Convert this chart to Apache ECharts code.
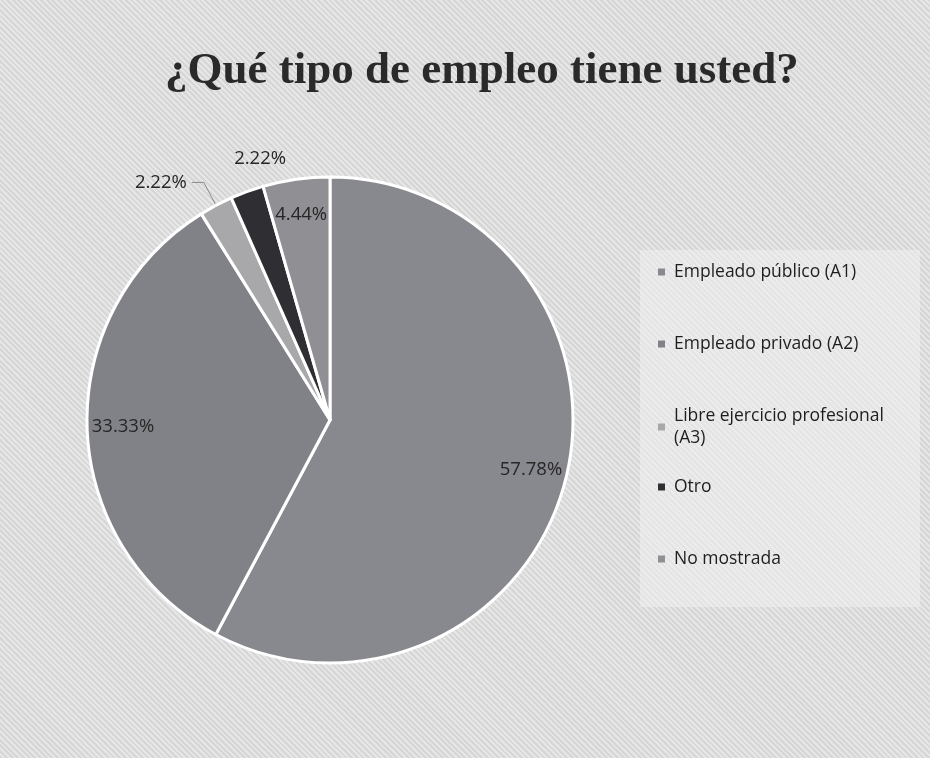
<!DOCTYPE html>
<html>
<head>
<meta charset="utf-8">
<script src="https://cdn.jsdelivr.net/npm/echarts@6/dist/echarts.min.js"></script>
<style>
html,body{margin:0;padding:0;width:930px;height:758px;overflow:hidden;}
body{background:#dcdcdc repeating-linear-gradient(45deg,#d6d6d6 0px,#d6d6d6 2px,#e6e6e6 2px,#e6e6e6 4px);}
#chart{width:930px;height:758px;}
</style>
</head>
<body>
<div id="chart"></div>
<script>
const titleText = '¿Qué tipo de empleo tiene usted?';
const categories = ['Empleado público (A1)', 'Empleado privado (A2)', 'Libre ejercicio profesional\n(A3)', 'Otro', 'No mostrada'];
const percentValues = [57.78, 33.33, 2.22, 2.22, 4.44];
const sliceColors = ['#88888f', '#818188', '#a8a8aa', '#2f2f33', '#8f8f94'];
const insideLabelIdx = [0, 1, 4];
const outerRingLabelIdx = [3];
const lineLabelIdx = [2];

const R = 243;
const CENTER = [330, 420];
const fmt = p => p.value.toFixed(2) + '%';
const labelFont = { fontFamily: 'Open Sans', fontSize: 18.5, color: '#262626' };

const mainData = categories.map((name, i) => {
  const d = { name, value: percentValues[i], itemStyle: { color: sliceColors[i] } };
  if (lineLabelIdx.includes(i)) {
    d.label = { show: true };
    d.labelLine = { show: true, length: 26, length2: 12, lineStyle: { color: '#8a8a8a', width: 1 } };
  } else {
    d.label = { show: false };
    d.labelLine = { show: false };
  }
  return d;
});

const overlayData = categories.map((name, i) => ({
  name: name + '_lbl', value: percentValues[i],
  itemStyle: { color: 'rgba(0,0,0,0)' },
  label: { show: insideLabelIdx.includes(i) }
}));

const ringData = categories.map((name, i) => ({
  name: name + '_ring', value: percentValues[i],
  itemStyle: { color: 'rgba(0,0,0,0)' },
  label: { show: outerRingLabelIdx.includes(i) }
}));

const legendText = { fontFamily: 'Open Sans', fontSize: 17.5, color: '#1e1e1e', lineHeight: 22, padding: [0, 0, 0, 4] };

const chart = echarts.init(document.getElementById('chart'), null, { renderer: 'canvas' });
chart.setOption({
  backgroundColor: 'transparent',
  animation: false,
  title: {
    text: titleText, left: 160, top: 44,
    textStyle: { fontFamily: 'Liberation Serif', fontWeight: 'bold', fontSize: 45, color: '#2a2a2a' }
  },
  graphic: [{
    type: 'rect', left: 640, top: 250, z: -1,
    shape: { width: 280, height: 357 },
    style: { fill: 'rgba(240,240,240,0.55)' }
  }],
  legend: [{
    orient: 'vertical', left: 653, top: 256, itemGap: 50,
    itemWidth: 7, itemHeight: 7, icon: 'rect',
    itemStyle: { borderWidth: 0 },
    data: categories.slice(0, 3),
    textStyle: legendText
  }, {
    orient: 'vertical', left: 653, top: 471, itemGap: 50,
    itemWidth: 7, itemHeight: 7, icon: 'rect',
    itemStyle: { borderWidth: 0 },
    data: categories.slice(3),
    textStyle: legendText
  }],
  series: [{
    type: 'pie', center: CENTER, radius: [0, R], startAngle: 90, clockwise: true,
    avoidLabelOverlap: false,
    itemStyle: { borderColor: '#ffffff', borderWidth: 3 },
    label: Object.assign({ position: 'outside', formatter: fmt }, labelFont),
    emphasis: { disabled: true },
    data: mainData
  }, {
    type: 'pie', center: CENTER, radius: [R * 0.68, R], startAngle: 90, clockwise: true,
    silent: true, legendHoverLink: false,
    label: Object.assign({ position: 'inside', formatter: fmt }, labelFont),
    labelLine: { show: false },
    itemStyle: { borderWidth: 0 },
    data: overlayData
  }, {
    type: 'pie', center: CENTER, radius: [R, R * 1.2], startAngle: 85, clockwise: true,
    silent: true, legendHoverLink: false,
    label: Object.assign({ position: 'inside', formatter: fmt }, labelFont),
    labelLine: { show: false },
    itemStyle: { borderWidth: 0 },
    data: ringData
  }]
});
</script>
</body>
</html>
